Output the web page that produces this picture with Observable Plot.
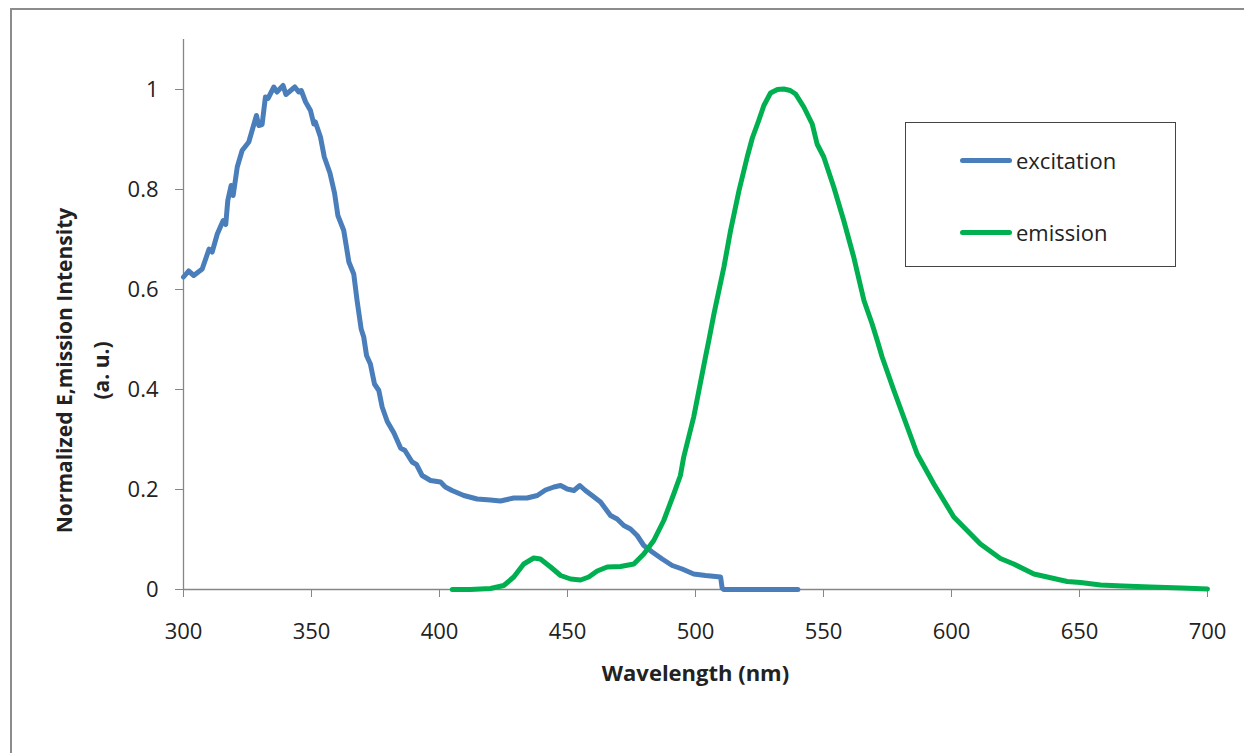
<!DOCTYPE html>
<html>
<head>
<meta charset="utf-8">
<script src="https://cdn.jsdelivr.net/npm/d3@7"></script>
<script src="https://cdn.jsdelivr.net/npm/@observablehq/plot@0.6"></script>
<style>
  html, body { margin: 0; padding: 0; background: #fff; }
  #wrap { position: relative; width: 1244px; height: 753px; overflow: hidden; font-family: "Open Sans", sans-serif; }
  #frame { position: absolute; left: 10px; top: 8px; width: 1300px; height: 800px; border-left: 2px solid #8c8c8c; border-top: 2px solid #8c8c8c; box-sizing: border-box; }
  #chart { position: absolute; left: 0; top: 0; }
  #legend { position: absolute; left: 905px; top: 122px; width: 271px; height: 145px; border: 1.5px solid #444; box-sizing: border-box; background: #fff; }
  .item { position: absolute; left: 54px; display: flex; align-items: center; font-size: 22px; color: #222; }
  .swatch { width: 52px; height: 5px; border-radius: 3px; margin-right: 4px; }
</style>
</head>
<body>
<div id="wrap">
  <div id="frame"></div>
  <div id="chart"></div>
  <div id="legend"></div>
</div>
<script>
// ---- data ----
const seriesNames = ["excitation", "emission"];
const seriesColors = ["#4a7ebb", "#00b050"];

const excitationWl = [300, 302, 304, 307.3, 310, 311.2, 313.2, 315.5, 316.5, 317.3, 318.6, 319.4, 321, 322.9, 325.5, 326.8, 328.5, 329.4, 330.7, 332, 333, 335.3, 336.5, 338.9, 340, 343.5, 345, 346, 347.7, 349.6, 350.9, 351.5, 353.5, 355, 357.2, 359, 360.3, 362.6, 364.6, 366.5, 367.8, 369.4, 370.4, 371.5, 373, 374.6, 376.3, 377.6, 379.6, 382.2, 384.8, 386.5, 389.3, 391, 393.2, 396.5, 400.4, 402.3, 404.9, 409.5, 414.7, 419.9, 423.8, 429, 434.2, 438.2, 441.4, 444.7, 447.3, 449.9, 452.5, 454.8, 457, 459.6, 462.9, 466.8, 469.4, 472, 474.6, 477.2, 479.8, 483.1, 487, 490.9, 494.8, 499.3, 503.9, 509.8, 510.4, 511, 540];
const excitationVal = [0.625, 0.637, 0.628, 0.641, 0.681, 0.675, 0.711, 0.738, 0.73, 0.778, 0.808, 0.788, 0.845, 0.878, 0.895, 0.918, 0.948, 0.928, 0.93, 0.985, 0.982, 1.005, 0.995, 1.008, 0.99, 1.005, 0.995, 0.998, 0.975, 0.958, 0.931, 0.935, 0.905, 0.865, 0.833, 0.793, 0.748, 0.718, 0.655, 0.631, 0.578, 0.521, 0.505, 0.468, 0.451, 0.411, 0.398, 0.365, 0.336, 0.313, 0.283, 0.278, 0.255, 0.25, 0.228, 0.218, 0.215, 0.205, 0.198, 0.188, 0.181, 0.179, 0.177, 0.183, 0.183, 0.188, 0.199, 0.205, 0.208, 0.201, 0.198, 0.208, 0.198, 0.188, 0.175, 0.148, 0.141, 0.128, 0.121, 0.108, 0.088, 0.075, 0.061, 0.048, 0.041, 0.031, 0.028, 0.025, 0.003, 0, 0];

const emissionWl = [405, 412, 419.9, 425.1, 429, 432.9, 436.8, 439.4, 443.4, 447.3, 451.2, 455.1, 458.3, 461.6, 465.5, 470.7, 475.9, 479.8, 483.7, 487.6, 491.5, 494.1, 495.4, 499.3, 503.9, 505.2, 507.2, 511.1, 513.7, 517, 520.2, 522.2, 524.7, 526.7, 529.3, 532, 534.5, 537, 539.1, 542.3, 545.6, 547.5, 550.1, 554, 557.9, 561.8, 565.8, 569, 571, 572.9, 577.5, 586.6, 593.1, 600.9, 611.3, 619.1, 624.3, 632.2, 637.4, 645.2, 650.4, 658.2, 667, 677.7, 690, 700];
const emissionVal = [0, 0, 0.002, 0.008, 0.025, 0.051, 0.063, 0.061, 0.045, 0.028, 0.021, 0.019, 0.025, 0.037, 0.045, 0.046, 0.051, 0.071, 0.098, 0.138, 0.191, 0.228, 0.265, 0.345, 0.465, 0.498, 0.551, 0.645, 0.718, 0.798, 0.865, 0.903, 0.938, 0.968, 0.993, 1.0, 1.001, 0.998, 0.991, 0.965, 0.931, 0.891, 0.865, 0.805, 0.738, 0.665, 0.578, 0.531, 0.498, 0.465, 0.398, 0.271, 0.211, 0.145, 0.091, 0.062, 0.051, 0.031, 0.025, 0.016, 0.014, 0.009, 0.007, 0.005, 0.003, 0.001];

const xTicks = [300, 350, 400, 450, 500, 550, 600, 650, 700];
const yTicks = [0, 0.2, 0.4, 0.6, 0.8, 1];
const xLabel = "Wavelength (nm)";
const yLabel = "Normalized E,mission Intensity\n(a. u.)";

// ---- build ----
const excitation = excitationWl.map((w, i) => ({wl: w, v: excitationVal[i], s: seriesNames[0]}));
const emission = emissionWl.map((w, i) => ({wl: w, v: emissionVal[i], s: seriesNames[1]}));
const axisGray = "#868686";
const textColor = "#222";

const chart = Plot.plot({
  width: 1244,
  height: 753,
  marginLeft: 183,
  marginRight: 37,
  marginTop: 39,
  marginBottom: 164,
  x: {domain: [300, 700]},
  y: {domain: [0, 1.1]},
  style: {fontFamily: "'Open Sans', sans-serif", fontSize: "22px", background: "transparent", color: textColor},
  marks: [
    Plot.ruleX([300], {y1: 0, y2: 1.1, stroke: axisGray, strokeWidth: 1.3}),
    Plot.ruleY([0], {x1: 300, x2: 700, stroke: axisGray, strokeWidth: 1.3}),
    Plot.axisY({ticks: yTicks, tickSize: 8, tickPadding: 17, stroke: axisGray, fill: textColor, label: null, fontSize: 22, tickFormat: d => String(d)}),
    Plot.axisX({ticks: xTicks, tickSize: 8, tickPadding: 26, stroke: axisGray, fill: textColor, label: null, fontSize: 22, tickFormat: d => String(d)}),
    Plot.line(excitation, {x: "wl", y: "v", stroke: seriesColors[0], strokeWidth: 5, strokeLinejoin: "round", strokeLinecap: "round"}),
    Plot.line(emission, {x: "wl", y: "v", stroke: seriesColors[1], strokeWidth: 5, strokeLinejoin: "round", strokeLinecap: "round"}),
    Plot.text([xLabel], {frameAnchor: "bottom", dy: 91, text: d => d, fontWeight: "bold", fontSize: 22, fill: textColor}),
    Plot.text([yLabel], {frameAnchor: "left", textAnchor: "middle", dx: -105, dy: 56, rotate: -90, text: d => d, fontWeight: "bold", fontSize: 21, lineHeight: 1.75, fill: textColor})
  ]
});
document.getElementById("chart").appendChild(chart);

// ---- legend ----
const legend = document.getElementById("legend");
const legendTops = [37, 109];
seriesNames.forEach((name, i) => {
  const item = document.createElement("div");
  item.className = "item";
  item.style.top = (legendTops[i] - 15) + "px";
  item.style.height = "30px";
  const sw = document.createElement("span");
  sw.className = "swatch";
  sw.style.background = seriesColors[i];
  const label = document.createElement("span");
  label.textContent = name;
  item.appendChild(sw);
  item.appendChild(label);
  legend.appendChild(item);
});
</script>
</body>
</html>
